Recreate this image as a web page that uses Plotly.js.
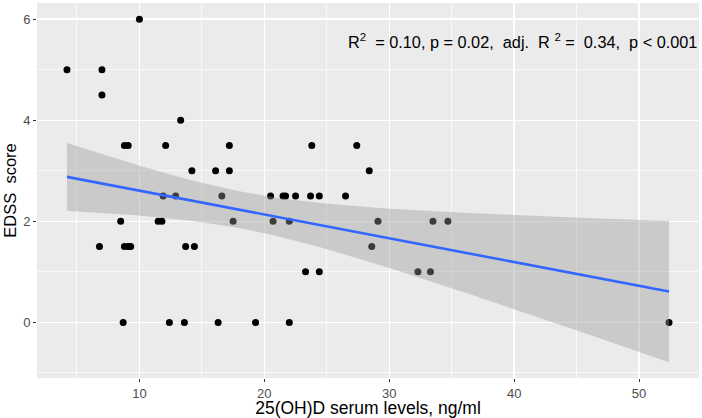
<!DOCTYPE html>
<html>
<head>
<meta charset="utf-8">
<script src="https://cdn.plot.ly/plotly-3.0.1.min.js"></script>
<style>
  body { margin: 0; background: #fff; }
  #edss_plot { width: 702px; height: 418px; }
</style>
</head>
<body>
<div id="edss_plot"></div>
<script>
//------------------------------ data ------------------------------//
var vitd = [4.2, 7.0, 7.0, 10.0, 13.3, 8.8, 9.1, 12.1, 17.2, 23.8, 27.4,
            14.2, 16.1, 17.2, 28.4, 11.9, 12.9, 16.6, 20.5, 21.5, 21.7,
            22.5, 23.7, 24.4, 26.5, 8.5, 11.5, 11.8, 17.5, 20.7, 22.0,
            29.1, 33.5, 34.7, 6.8, 8.8, 9.1, 9.3, 13.7, 14.4, 28.6,
            23.3, 24.4, 32.3, 33.3, 8.7, 12.4, 13.6, 16.3, 19.3, 22.0, 52.4];
var edss = [5, 5, 4.5, 6, 4, 3.5, 3.5, 3.5, 3.5, 3.5, 3.5,
            3, 3, 3, 3, 2.5, 2.5, 2.5, 2.5, 2.5, 2.5,
            2.5, 2.5, 2.5, 2.5, 2, 2, 2, 2, 2, 2,
            2, 2, 2, 1.5, 1.5, 1.5, 1.5, 1.5, 1.5, 1.5,
            1, 1, 1, 1, 0, 0, 0, 0, 0, 0, 0];

var x_ticks = [10, 20, 30, 40, 50];
var y_ticks = [0, 2, 4, 6];
var stats_label = "R<sup>2</sup>\u00a0 = 0.10, p = 0.02,\u00a0 adj.\u00a0 R <sup>2</sup> =\u00a0 0.34,\u00a0 p &lt; 0.001";

//------------------------------ linear fit + 95% band (like geom_smooth lm) ------------------------------//
var n = vitd.length;
var mx = 0, my = 0;
for (var i = 0; i < n; i++) { mx += vitd[i]; my += edss[i]; }
mx /= n; my /= n;
var sxx = 0, sxy = 0;
for (var i = 0; i < n; i++) {
  sxx += (vitd[i] - mx) * (vitd[i] - mx);
  sxy += (vitd[i] - mx) * (edss[i] - my);
}
var slope = sxy / sxx;
var icpt = my - slope * mx;
var sse = 0;
for (var i = 0; i < n; i++) {
  var r = edss[i] - (icpt + slope * vitd[i]);
  sse += r * r;
}
var s = Math.sqrt(sse / (n - 2));
var tq = 2.009; // t(0.975, df = 50)

var xmin = Math.min.apply(null, vitd), xmax = Math.max.apply(null, vitd);
var fx = [], fy = [], up = [], lo = [];
for (var k = 0; k < 80; k++) {
  var xv = xmin + (xmax - xmin) * k / 79;
  var yv = icpt + slope * xv;
  var se = s * Math.sqrt(1 / n + (xv - mx) * (xv - mx) / sxx);
  fx.push(xv); fy.push(yv);
  up.push(yv + tq * se); lo.push(yv - tq * se);
}

//------------------------------ traces ------------------------------//
var pts = {
  x: vitd, y: edss,
  mode: 'markers', type: 'scatter',
  marker: {size: 7, color: '#000000'},
  hoverinfo: 'x+y'
};
var band_lo = {
  x: fx, y: lo, mode: 'lines', type: 'scatter',
  line: {width: 0, color: 'rgba(0,0,0,0)'},
  hoverinfo: 'skip'
};
var band_up = {
  x: fx, y: up, mode: 'lines', type: 'scatter',
  line: {width: 0, color: 'rgba(0,0,0,0)'},
  fill: 'tonexty', fillcolor: 'rgba(153,153,153,0.4)',
  hoverinfo: 'skip'
};
var fit = {
  x: fx, y: fy, mode: 'lines', type: 'scatter',
  line: {color: '#3366FF', width: 2.6},
  hoverinfo: 'skip'
};

var layout = {
  width: 702, height: 418, autosize: false,
  showlegend: false,
  paper_bgcolor: '#FFFFFF',
  plot_bgcolor: '#EBEBEB',
  margin: {l: 37, r: 3, t: 3, b: 40},
  font: {family: 'Liberation Sans, Arial, sans-serif', color: '#000'},
  xaxis: {
    range: [1.8, 54.8],
    tickvals: x_ticks,
    ticks: 'outside', ticklen: 3, tickwidth: 1, tickcolor: '#333333',
    tickfont: {size: 13, color: '#4D4D4D'},
    gridcolor: '#FFFFFF', gridwidth: 1.4,
    minor: {dtick: 5, tick0: 0, gridcolor: '#FFFFFF', gridwidth: 0.7, ticks: ''},
    zeroline: false, showline: false,
    automargin: true,
    title: {text: '25(OH)D serum levels, ng/ml', font: {size: 17.5, color: '#000'}, standoff: 0}
  },
  yaxis: {
    range: [-1.1, 6.32],
    tickvals: y_ticks,
    ticks: 'outside', ticklen: 3, tickwidth: 1, tickcolor: '#333333',
    tickfont: {size: 13, color: '#4D4D4D'},
    gridcolor: '#FFFFFF', gridwidth: 1.4,
    minor: {dtick: 1, tick0: 0, gridcolor: '#FFFFFF', gridwidth: 0.7, ticks: ''},
    zeroline: false, showline: false,
    title: {text: 'EDSS\u00a0 score', font: {size: 16.5, color: '#000'}, standoff: 2}
  },
  annotations: [{
    xref: 'paper', yref: 'paper',
    x: 1.0, y: 0.899, xanchor: 'right', yanchor: 'middle',
    text: stats_label, showarrow: false,
    font: {size: 16.3, color: '#000'}
  }]
};

var config = {responsive: false, displayModeBar: false, staticPlot: true};
Plotly.newPlot('edss_plot', [pts, band_lo, band_up, fit], layout, config);
</script>
</body>
</html>
